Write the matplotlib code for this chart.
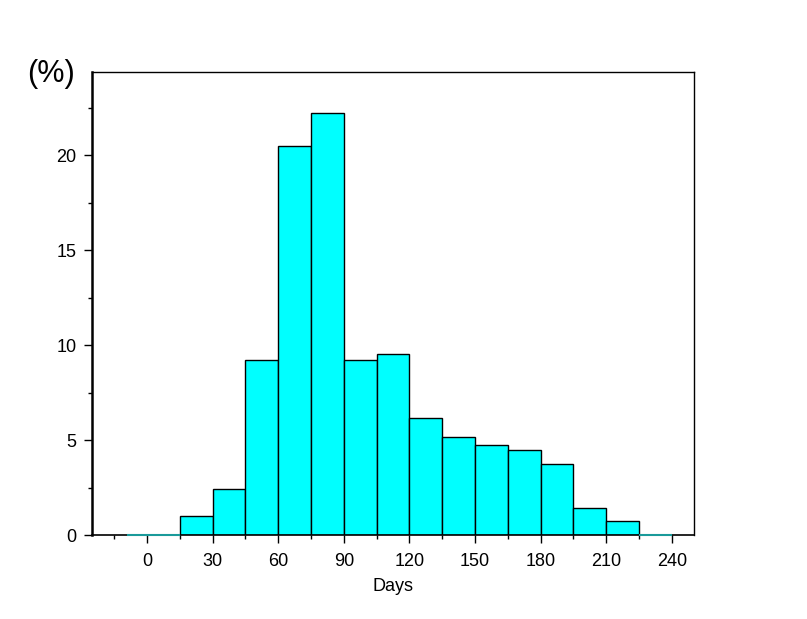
import numpy as np
import matplotlib
matplotlib.use("Agg")
import matplotlib.pyplot as plt
from matplotlib.ticker import MultipleLocator

plt.rcParams['font.family'] = ['Liberation Sans', 'DejaVu Sans']

# bin edges (days) and share of cases (%)
bin_left = [-9, 15, 30, 45, 60, 75, 90, 105, 120, 135, 150, 165, 180, 195, 210, 225]
bin_right = [15, 30, 45, 60, 75, 90, 105, 120, 135, 150, 165, 180, 195, 210, 225, 240]
percent = [0, 1.0, 2.4, 9.2, 20.5, 22.2, 9.2, 9.55, 6.15, 5.15, 4.75, 4.45, 3.75, 1.4, 0.72, 0]
x_ticks = [0, 30, 60, 90, 120, 150, 180, 210, 240]
y_ticks = [0, 5, 10, 15, 20]

fig = plt.figure(figsize=(8.07, 6.19), dpi=100)
ax = fig.add_axes([0.114, 0.1357, 0.746, 0.748])

left = np.array(bin_left)
width = np.array(bin_right) - left
vals = np.array(percent)
nz = vals > 0
ax.bar(left[nz], vals[nz], width=width[nz], align='edge', color='#00ffff',
       edgecolor='black', linewidth=1)
zero = ax.bar(left[~nz], vals[~nz], width=width[~nz], align='edge', color='#00ffff',
              edgecolor='#1a9a9a', linewidth=1.5, zorder=3)
for b in zero:
    b.set_clip_on(False)

ax.set_xlim(-25.1, 250.1)
ax.set_ylim(0, 24.37)
ax.set_xticks(x_ticks)
ax.set_yticks(y_ticks)
ax.xaxis.set_minor_locator(MultipleLocator(15))
ax.yaxis.set_minor_locator(MultipleLocator(2.5))
ax.tick_params(which='major', length=6, width=1, labelsize=13, direction='out')
ax.tick_params(which='minor', length=3, width=1, direction='out')
ax.tick_params(axis='x', pad=7)
ax.tick_params(axis='y', pad=5)

ax.spines['left'].set_linewidth(1.8)
ax.spines['bottom'].set_linewidth(1.2)
ax.spines['top'].set_linewidth(1)
ax.spines['right'].set_linewidth(1)

ax.set_xlabel("Days", fontsize=13, labelpad=6)
fig.text(0.034, 0.880, "(%)", fontsize=22, ha='left', va='center')

fig.savefig("out.png", dpi=100)
